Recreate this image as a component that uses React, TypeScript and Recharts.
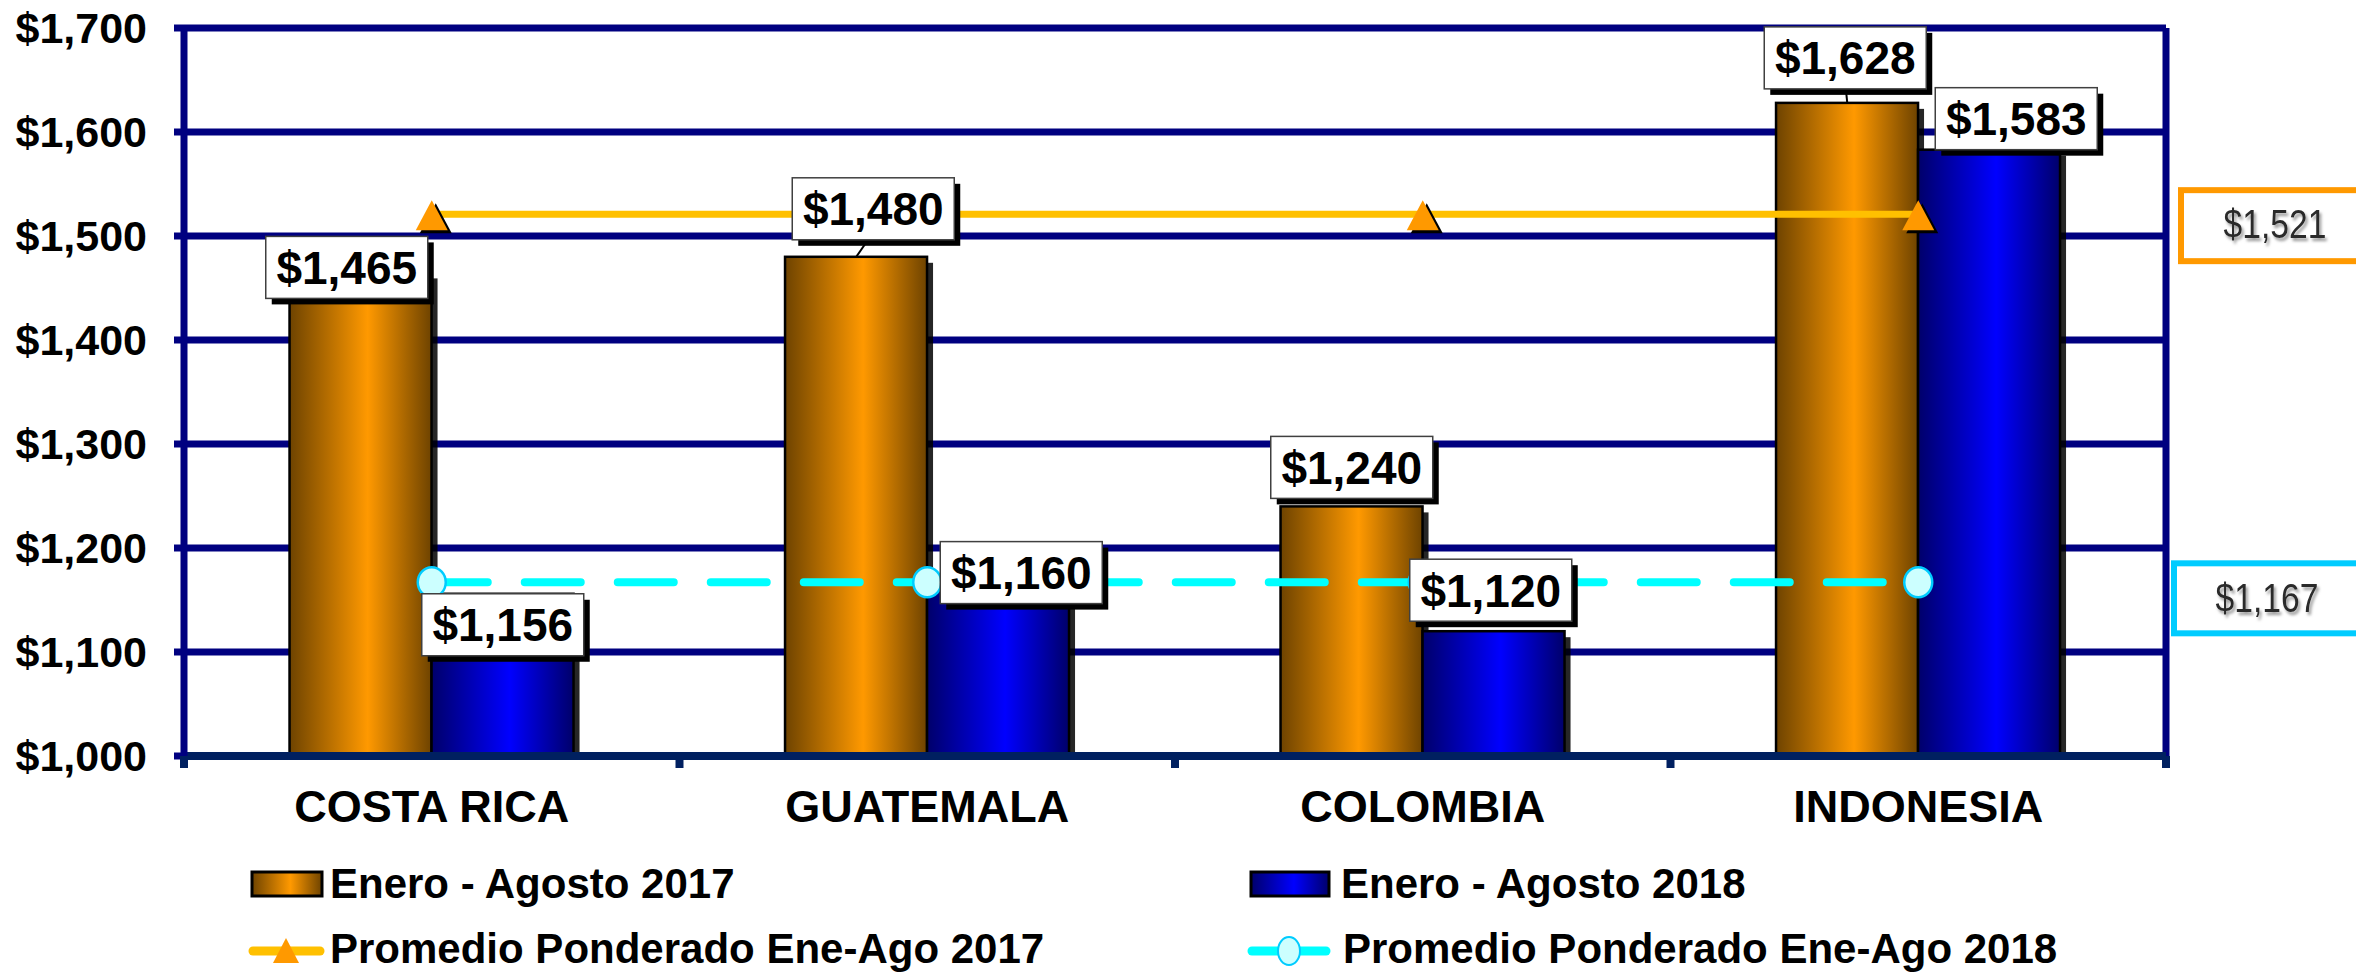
import React from 'react';
import { ComposedChart, Bar, Line, XAxis, YAxis, CartesianGrid, LabelList, ReferenceLine } from 'recharts';

const countries = ['COSTA RICA', 'GUATEMALA', 'COLOMBIA', 'INDONESIA'];
const enero2017 = [1465, 1480, 1240, 1628];
const enero2018 = [1156, 1160, 1120, 1583];
const promedio2017 = [1521, 1521, 1521, 1521];
const promedio2018 = [1167, 1167, 1167, 1167];
const yTicks = [1000, 1100, 1200, 1300, 1400, 1500, 1600, 1700];

// where each value box sits, relative to the top centre of its bar (hand placed in the original)
const labelShift2017 = [[-14, -5], [17, -48], [0, -39], [-2, -45]];
const labelShift2018 = [[0, 31], [23, -17], [-3, -41], [27, -31]];

const data = countries.map((name, i) => ({
  name,
  v2017: enero2017[i],
  v2018: enero2018[i],
  p2017: promedio2017[i],
  p2018: promedio2018[i],
}));

const FONT = "'Liberation Sans', Arial, Helvetica, sans-serif";
const BAR_HALF = 71;

const money = (v: number) => '$' + String(v).replace(/\B(?=(\d{3})+(?!\d))/g, ',');

function GradientBar(props: any) {
  const { x, y, width, height, fill } = props;
  if (!height || height <= 0) return null;
  return (
    <g>
      <rect x={x + 6} y={y + 6} width={width} height={Math.max(height - 6, 0)} fill="#000" opacity={0.85} />
      <rect x={x} y={y} width={width} height={height} fill={fill} stroke="#000" strokeWidth={2.5} />
    </g>
  );
}

function ValueBox(props: any) {
  const { value, index, side, shifts } = props;
  const px = props.x ?? props.viewBox?.x;
  const py = props.y ?? props.viewBox?.y;
  if (px == null || py == null) return null;
  const [dx, dy] = shifts[index];
  const bx = px + side * BAR_HALF;
  const cx = bx + dx;
  const cy = py + dy;
  const w = 162;
  const h = 62;
  const bottom = cy + h / 2;
  return (
    <g>
      {py - bottom > 10 && (
        <line x1={bx} y1={py} x2={bx + dx * 0.7} y2={bottom} stroke="#000" strokeWidth={2} />
      )}
      <rect x={cx - w / 2 + 6} y={cy - h / 2 + 6} width={w} height={h} fill="#000" />
      <rect x={cx - w / 2} y={cy - h / 2} width={w} height={h} fill="#fff" stroke="#404040" strokeWidth={1.5} />
      <text x={cx} y={cy + 16.5} textAnchor="middle" fontFamily={FONT} fontWeight="bold" fontSize={46} fill="#000">
        {money(value)}
      </text>
    </g>
  );
}

function AvgBox(props: any) {
  const { viewBox, text, color, left, top, height, textX, textY } = props;
  if (!viewBox) return null;
  const right = viewBox.x + viewBox.width;
  const y = viewBox.y;
  return (
    <g>
      <rect x={right + left} y={y + top} width={260} height={height} fill="#fff" stroke={color} strokeWidth={6} />
      <text
        x={right + textX}
        y={y + textY}
        textAnchor="middle"
        fontFamily={FONT}
        fontSize={41}
        fill="#2a2a2a"
        textLength={103}
        lengthAdjust="spacingAndGlyphs"
        filter="url(#txtShadow)"
      >
        {text}
      </text>
    </g>
  );
}

function Triangle({ cx, cy }: any) {
  const pts = (ox: number, oy: number) =>
    `${cx + ox},${cy - 14 + oy} ${cx - 16 + ox},${cy + 16 + oy} ${cx + 16 + ox},${cy + 16 + oy}`;
  return (
    <g>
      <polygon points={pts(4, 3)} fill="#000" />
      <polygon points={pts(0, 0)} fill="#FF9900" />
    </g>
  );
}

function YTick(props: any) {
  const { x, y, payload } = props;
  return (
    <text x={x} y={y + 15} textAnchor="end" fontFamily={FONT} fontWeight="bold" fontSize={43} fill="#000">
      {money(payload.value)}
    </text>
  );
}

function XTick(props: any) {
  const { x, y, payload, index, visibleTicksCount } = props;
  const off = payload.offset ?? 0;
  const last = index === (visibleTicksCount ?? countries.length) - 1;
  return (
    <g>
      {off > 0 && <line x1={x - off} x2={x - off} y1={y} y2={y + 12} stroke="#002060" strokeWidth={8} />}
      {off > 0 && last && <line x1={x + off} x2={x + off} y1={y} y2={y + 12} stroke="#002060" strokeWidth={8} />}
      <text x={x} y={y + 66} textAnchor="middle" fontFamily={FONT} fontWeight="bold" fontSize={45} fill="#000">
        {payload.value}
      </text>
    </g>
  );
}

function LegendOverlay() {
  const t = { fontFamily: FONT, fontWeight: 'bold' as const, fontSize: 42, fill: '#000' };
  return (
    <svg width={2356} height={973} style={{ position: 'absolute', left: 0, top: 0, pointerEvents: 'none' }}>
      <defs>
        <linearGradient id="lgOrange" x1="0" y1="0" x2="1" y2="0">
          <stop offset="0" stopColor="#6E4300" />
          <stop offset="0.55" stopColor="#FF9900" />
          <stop offset="1" stopColor="#6E4300" />
        </linearGradient>
        <linearGradient id="lgBlue" x1="0" y1="0" x2="1" y2="0">
          <stop offset="0" stopColor="#00006A" />
          <stop offset="0.55" stopColor="#0000FF" />
          <stop offset="1" stopColor="#00006A" />
        </linearGradient>
      </defs>
      <rect x={252} y={872} width={70} height={24} fill="url(#lgOrange)" stroke="#000" strokeWidth={3} />
      <text x={330} y={898} {...t}>Enero - Agosto 2017</text>
      <rect x={1251} y={872} width={78} height={24} fill="url(#lgBlue)" stroke="#000" strokeWidth={3} />
      <text x={1341} y={898} {...t}>Enero - Agosto 2018</text>

      <line x1={253} x2={320} y1={951} y2={951} stroke="#FFC000" strokeWidth={9} strokeLinecap="round" />
      <polygon points="286,938 273,963 299,963" fill="#FF9900" />
      <text x={330} y={963} {...t}>Promedio Ponderado Ene-Ago 2017</text>

      <line x1={1252} x2={1326} y1={951} y2={951} stroke="#00FFFF" strokeWidth={9} strokeLinecap="round" />
      <ellipse cx={1289} cy={951} rx={11} ry={14} fill="#CCFFFF" stroke="#00CCFF" strokeWidth={2} />
      <text x={1343} y={963} {...t}>Promedio Ponderado Ene-Ago 2018</text>
    </svg>
  );
}

export default function App() {
  return (
    <div style={{ position: 'absolute', left: 0, top: 0, width: 2356, height: 973, background: '#fff' }}>
      <ComposedChart
        width={2356}
        height={973}
        data={data}
        margin={{ top: 28, right: 190, bottom: 137, left: 0 }}
        barGap={0}
        barCategoryGap="21.3%"
      >
        <defs>
          <linearGradient id="gOrange" x1="0" y1="0" x2="1" y2="0">
            <stop offset="0" stopColor="#6E4300" />
            <stop offset="0.55" stopColor="#FF9900" />
            <stop offset="1" stopColor="#6E4300" />
          </linearGradient>
          <linearGradient id="gBlue" x1="0" y1="0" x2="1" y2="0">
            <stop offset="0" stopColor="#00006A" />
            <stop offset="0.55" stopColor="#0000FF" />
            <stop offset="1" stopColor="#00006A" />
          </linearGradient>
          <filter id="txtShadow" x="-10%" y="-10%" width="130%" height="140%">
            <feDropShadow dx="2" dy="3" stdDeviation="1.5" floodColor="#999" />
          </filter>
        </defs>
        <CartesianGrid
          stroke="#000080"
          strokeWidth={7}
          vertical
          verticalCoordinatesGenerator={({ offset }: any) => [offset.left + offset.width]}
        />
        <Bar dataKey="v2017" fill="url(#gOrange)" shape={<GradientBar />} isAnimationActive={false} />
        <Bar dataKey="v2018" fill="url(#gBlue)" shape={<GradientBar />} isAnimationActive={false} />
        <Line
          dataKey="p2017"
          stroke="#FFC000"
          strokeWidth={7}
          dot={(p: any) => <Triangle key={`tri${p.index}`} cx={p.cx} cy={p.cy} />}
          activeDot={false}
          isAnimationActive={false}
        />
        <Line
          dataKey="p2018"
          stroke="#00FFFF"
          strokeWidth={8}
          strokeDasharray="56 37"
          strokeLinecap="round"
          dot={(p: any) => (
            <ellipse key={`cir${p.index}`} cx={p.cx} cy={p.cy} rx={14} ry={15} fill="#CCFFFF" stroke="#00CCFF" strokeWidth={2.5} />
          )}
          activeDot={false}
          isAnimationActive={false}
        />
        <Line dataKey="v2017" stroke="none" dot={false} activeDot={false} isAnimationActive={false}>
          <LabelList dataKey="v2017" content={(p: any) => <ValueBox {...p} side={-1} shifts={labelShift2017} />} />
        </Line>
        <Line dataKey="v2018" stroke="none" dot={false} activeDot={false} isAnimationActive={false}>
          <LabelList dataKey="v2018" content={(p: any) => <ValueBox {...p} side={1} shifts={labelShift2018} />} />
        </Line>
        <ReferenceLine
          y={promedio2017[0]}
          stroke="none"
          label={<AvgBox text={money(promedio2017[0])} color="#FF9900" left={15} top={-24} height={71} textX={109} textY={24} />}
        />
        <ReferenceLine
          y={promedio2018[0]}
          stroke="none"
          label={<AvgBox text={money(promedio2018[0])} color="#00CCFF" left={8} top={-19} height={70} textX={101} textY={30} />}
        />
        <XAxis
          dataKey="name"
          height={80}
          interval={0}
          axisLine={{ stroke: '#002060', strokeWidth: 8 }}
          tickLine={false}
          tickSize={0}
          tickMargin={0}
          tick={<XTick />}
        />
        <YAxis
          domain={[1000, 1700]}
          ticks={yTicks}
          width={184}
          interval={0}
          axisLine={{ stroke: '#000080', strokeWidth: 7 }}
          tickLine={{ stroke: '#000080', strokeWidth: 7 }}
          tickSize={10}
          tickMargin={27}
          tick={<YTick />}
        />
      </ComposedChart>
      <LegendOverlay />
    </div>
  );
}
